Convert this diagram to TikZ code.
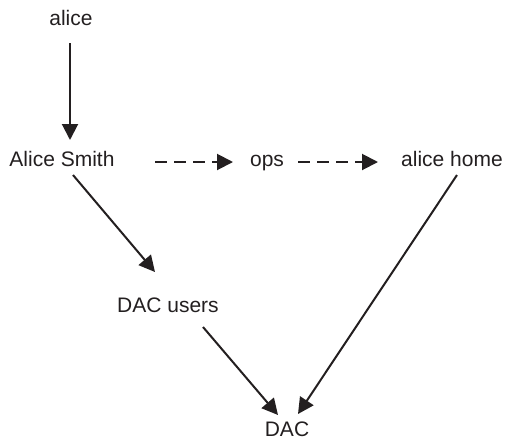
\documentclass[tikz,border=0pt]{standalone}
\usepackage{fontspec}
\setmainfont{Liberation Sans}
\usetikzlibrary{arrows.meta,calc}
\definecolor{ink}{HTML}{231F20}
\begin{document}
\begin{tikzpicture}[x=1pt,y=-1pt,
  lbl/.style={font=\fontsize{21}{25}\selectfont, text=ink, inner sep=0pt, anchor=base},
  arr/.style={draw=ink, line width=2pt, -{Triangle[length=16pt,width=16pt]}},
  darr/.style={arr, dash pattern=on 12pt off 7pt}]
\useasboundingbox (0,0) rectangle (506,440);

% labels, placed on their baselines
\node[lbl] (alice) at (71,25) {alice};
\node[lbl] (smith) at (62,166) {Alice Smith};
\node[lbl] (ops) at (267,166) {ops};
\node[lbl] (home) at (452,166) {alice home};
\node[lbl] (users) at (168,312) {DAC users};
\node[lbl] (dac) at (287,436) {DAC};

% connectors
\draw[arr] ($(alice.base)+(-1,18)$) -- ($(alice.base)+(-1,115)$);
\draw[darr] ($(smith.base)+(93,-4)$) -- ($(ops.base)+(-34,-4)$);
\draw[darr] ($(ops.base)+(31,-4)$) -- ($(home.base)+(-74,-4)$);
\draw[arr] ($(smith.base)+(11,9)$) -- ($(users.base)+(-13,-40)$);
\draw[arr] ($(users.base)+(35,15)$) -- ($(dac.base)+(-9,-21)$);
\draw[arr] ($(home.base)+(5,9)$) -- ($(dac.base)+(11,-22)$);
\end{tikzpicture}
\end{document}
